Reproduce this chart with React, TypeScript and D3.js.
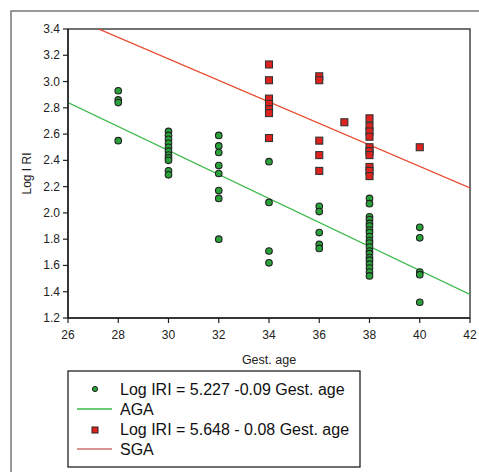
import React from 'react';
import * as d3 from 'd3';

// gestational age categories (x) and Log IRI values
const agaAges = [28, 30, 32, 34, 36, 38, 40];
const agaValues: number[][] = [
  [2.93, 2.86, 2.84, 2.55],
  [2.62, 2.59, 2.56, 2.53, 2.5, 2.47, 2.44, 2.42, 2.4, 2.32, 2.29],
  [2.59, 2.51, 2.46, 2.36, 2.3, 2.17, 2.11, 1.8],
  [2.39, 2.08, 1.71, 1.62],
  [2.05, 2.01, 1.85, 1.76, 1.73],
  [2.11, 2.07, 1.97, 1.95, 1.92, 1.9, 1.87, 1.85, 1.82, 1.79, 1.77, 1.74, 1.71, 1.69, 1.66, 1.64, 1.61, 1.58, 1.55, 1.52],
  [1.89, 1.81, 1.55, 1.53, 1.32],
];

const sgaAges = [34, 36, 37, 38, 40];
const sgaValues: number[][] = [
  [3.13, 3.01, 2.87, 2.83, 2.79, 2.76, 2.57],
  [3.04, 3.01, 2.55, 2.44, 2.32],
  [2.69],
  [2.72, 2.66, 2.62, 2.58, 2.5, 2.47, 2.44, 2.35, 2.32, 2.28],
  [2.5],
];

// regression lines, end points
const agaFit = [{ x: 26, y: 2.84 }, { x: 42, y: 1.38 }];
const sgaFit = [{ x: 26, y: 3.5 }, { x: 42, y: 2.19 }];

const xTicks = [26, 28, 30, 32, 34, 36, 38, 40, 42];
const yTicks = [1.2, 1.4, 1.6, 1.8, 2.0, 2.2, 2.4, 2.6, 2.8, 3.0, 3.2, 3.4];

const legendLabels = [
  'Log IRI = 5.227 -0.09 Gest. age',
  'AGA',
  'Log IRI = 5.648 - 0.08 Gest. age',
  'SGA',
];

const W = 479;
const H = 472;
const margin = { left: 68, top: 29, right: 470, bottom: 318 };

const GREEN = '#2aa23a';
const GREEN_LINE = '#3cb84a';
const RED = '#e0221e';
const RED_LINE = '#e84a30';

export default function App() {
  const x = d3.scaleLinear().domain([26, 42]).range([margin.left, margin.right]);
  const y = d3.scaleLinear().domain([1.2, 3.4]).range([margin.bottom, margin.top]);

  const line = d3
    .line<{ x: number; y: number }>()
    .x((d) => x(d.x))
    .y((d) => y(d.y));

  const agaPts = agaAges.flatMap((a, i) => agaValues[i].map((v) => ({ x: a, y: v })));
  const sgaPts = sgaAges.flatMap((a, i) => sgaValues[i].map((v) => ({ x: a, y: v })));

  const font = 'Arial, "Liberation Sans", sans-serif';
  const lx = 68;
  const ly = 371;

  return (
    <svg
      width={W}
      height={H}
      style={{ position: 'absolute', left: 0, top: 0, background: '#fff' }}
      fontFamily={font}
    >
      <defs>
        <clipPath id="plot">
          <rect x={margin.left} y={margin.top} width={margin.right - margin.left} height={margin.bottom - margin.top} />
        </clipPath>
      </defs>
      {/* outer frame */}
      <path d={`M11,${H + 5} V11 H${W + 5}`} fill="none" stroke="#777" strokeWidth={1.5} />

      {/* plot border */}
      <rect
        x={margin.left}
        y={margin.top}
        width={margin.right - margin.left}
        height={margin.bottom - margin.top}
        fill="none"
        stroke="#444"
        strokeWidth={1.5}
      />

      {/* fit lines */}
      <g clipPath="url(#plot)">
        <path d={line(agaFit) || ''} stroke={GREEN_LINE} strokeWidth={1.3} fill="none" />
        <path d={line(sgaFit) || ''} stroke={RED_LINE} strokeWidth={1.3} fill="none" />
      </g>

      {/* SGA squares */}
      {sgaPts.map((d, i) => (
        <rect key={'s' + i} x={x(d.x) - 3.5} y={y(d.y) - 3.5} width={7} height={7} fill={RED} stroke="#333" strokeWidth={1.1} />
      ))}
      {/* AGA circles */}
      {agaPts.map((d, i) => (
        <circle key={'a' + i} cx={x(d.x)} cy={y(d.y)} r={3.3} fill={GREEN} stroke="#222" strokeWidth={1.1} />
      ))}

      {/* axes */}
      <line x1={margin.left} x2={margin.left} y1={margin.top} y2={margin.bottom} stroke="#222" strokeWidth={1.5} />
      <line x1={margin.left} x2={margin.right} y1={margin.bottom} y2={margin.bottom} stroke="#222" strokeWidth={1.5} />
      {yTicks.map((t) => (
        <g key={'y' + t}>
          <line x1={margin.left - 5} x2={margin.left} y1={y(t)} y2={y(t)} stroke="#222" strokeWidth={1.2} />
          <text x={margin.left - 8} y={y(t) + 4} textAnchor="end" fontSize={12} fill="#222">
            {t.toFixed(1)}
          </text>
        </g>
      ))}
      {xTicks.map((t) => (
        <g key={'x' + t}>
          <line x1={x(t)} x2={x(t)} y1={margin.bottom} y2={margin.bottom + 5} stroke="#222" strokeWidth={1.2} />
          <text x={x(t)} y={339} textAnchor="middle" fontSize={12} fill="#222">
            {t}
          </text>
        </g>
      ))}

      <text x={(margin.left + margin.right) / 2} y={364} textAnchor="middle" fontSize={12.5} fill="#222">
        Gest. age
      </text>
      <text
        transform={`translate(31,${(margin.top + margin.bottom) / 2}) rotate(-90)`}
        textAnchor="middle"
        fontSize={12}
        fill="#222"
      >
        Log I RI
      </text>

      {/* legend */}
      <rect x={lx} y={ly} width={292} height={96} fill="#fff" stroke="#222" strokeWidth={1.3} />
      <circle cx={95} cy={389} r={2.6} fill={GREEN} stroke="#222" strokeWidth={1} />
      <line x1={77} x2={112} y1={409} y2={409} stroke={GREEN_LINE} strokeWidth={1.3} />
      <rect x={92} y={427} width={6} height={6} fill={RED} stroke="#222" strokeWidth={1} />
      <line x1={77} x2={112} y1={449} y2={449} stroke="#cc7070" strokeWidth={1.3} />
      {legendLabels.map((l, i) => (
        <text key={l} x={120} y={395 + i * 20} fontSize={16} fill="#111">
          {l}
        </text>
      ))}
    </svg>
  );
}
